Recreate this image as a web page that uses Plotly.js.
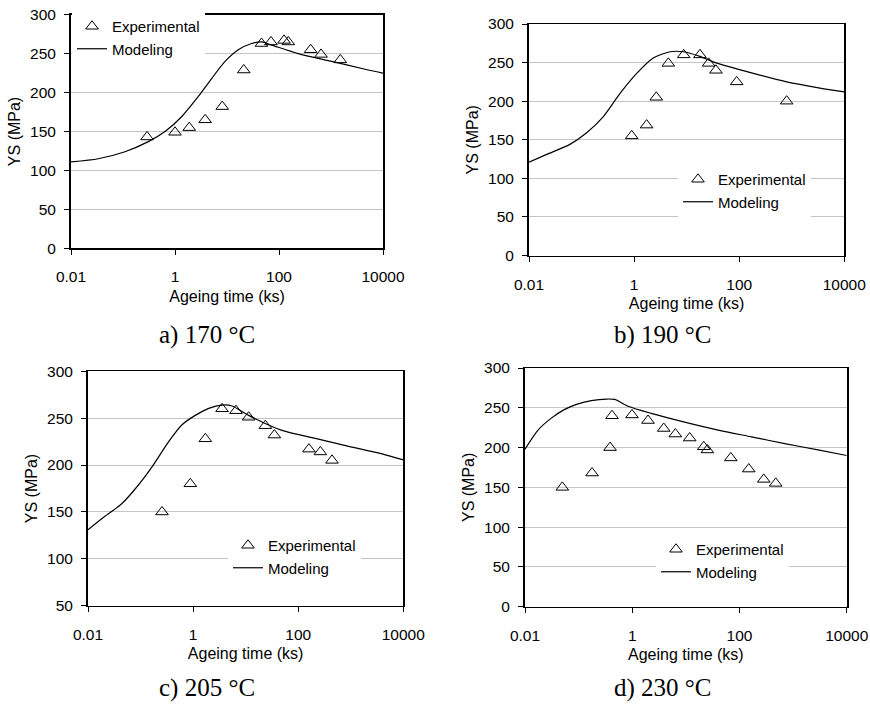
<!DOCTYPE html>
<html>
<head>
<meta charset="utf-8">
<script src="https://cdn.plot.ly/plotly-3.0.1.min.js"></script>
<style>
  html, body { margin: 0; padding: 0; background: #fff; }
  #chart { width: 870px; height: 706px; }
</style>
</head>
<body>
<div id="chart"></div>
<script>
// Yield strength vs. ageing time at four ageing temperatures

// a) 170 °C
const expTimeA = [0.29, 1.0, 1.88, 3.8, 8.1, 21, 46, 70, 125, 151, 406, 643, 1510];
const expYsA   = [143, 149, 155, 165, 182, 229, 263, 265, 267, 265, 255, 249, 242];
const modTimeA = [0.01, 0.0335, 0.109, 0.307, 0.643, 1.34, 2.81, 5.07, 9.16, 16.5, 29.8, 46.4, 72.3, 235, 1030, 4510, 10000];
const modYsA   = [111, 115, 124, 137, 150, 169, 195, 218, 240, 255, 263, 265, 261, 250, 240, 230, 225];

// b) 190 °C
const expTimeB = [0.90, 1.73, 2.64, 4.48, 8.8, 17.9, 26.2, 36.1, 89.5, 800];
const expYsB   = [155, 169, 205, 249, 260, 260, 249, 240, 225, 200];
const modTimeB = [0.01, 0.0217, 0.06, 0.125, 0.26, 0.54, 1.12, 2.32, 4.82, 8.64, 17.9, 32.2, 186, 800, 3444, 10000];
const modYsB   = [121, 131, 144, 159, 180, 210, 236, 256, 264, 264, 258, 251, 236, 225, 217, 212];

// c) 205 °C
const expTimeC = [0.256, 0.885, 1.71, 3.55, 6.55, 11.4, 23.7, 35.2, 160, 264, 440];
const expYsC   = [150, 180, 228, 260, 258, 251, 242, 232, 217, 214, 205];
const modTimeC = [0.01, 0.0185, 0.0443, 0.092, 0.165, 0.343, 0.615, 1.10, 1.98, 3.55, 5.5, 11.4, 49.2, 212, 914, 3937, 10000];
const modYsC   = [131, 143, 159, 179, 198, 225, 243, 253, 260.5, 264, 263, 253, 237, 228.5, 220, 212, 205.5];

// d) 230 °C
const expTimeD = [0.0497, 0.178, 0.386, 0.42, 0.99, 1.97, 3.87, 6.37, 11.8, 21.6, 25.2, 68.9, 149, 284, 475];
const expYsD   = [150, 168, 200, 240, 241, 234, 224, 217, 212, 201, 197, 187, 173, 160, 155];
const modTimeD = [0.01, 0.0175, 0.031, 0.055, 0.0975, 0.173, 0.329, 0.471, 0.835, 2.27, 9.5, 39.8, 167, 700, 2925, 10000];
const modYsD   = [198, 222, 237, 248, 255, 259, 261, 260.5, 252, 243, 232, 222, 213.5, 205, 197, 190];

const panelCaptions = ["a) 170 °C", "b) 190 °C", "c) 205 °C", "d) 230 °C"];
const xTickVals = [0.01, 1, 100, 10000];
const xTickText = ["0.01", "1", "100", "10000"];
const yRanges = [[0, 300], [0, 300], [50, 300], [0, 300]];

// ---- layout geometry (pixels on a 870 x 706 page) ----
const W = 870, H = 706;
const boxes = [
  { l: 71,  r: 383,   t: 14.7,  b: 248.3 },
  { l: 529, r: 844.3, t: 24,    b: 255.5 },
  { l: 88,  r: 403.3, t: 371.3, b: 605.7 },
  { l: 525, r: 846.7, t: 368,   b: 606.7 }
];
const legendPos = [ [72, 10], [678, 163], [228, 529], [656, 533] ];
const captionPos = [ [207, 335], [663, 335], [207, 688], [663, 688] ];

const FONT = "Liberation Sans, Arial, sans-serif";
const SERIF = "Liberation Serif, Times New Roman, serif";

const series = [
  [expTimeA, expYsA, modTimeA, modYsA],
  [expTimeB, expYsB, modTimeB, modYsB],
  [expTimeC, expYsC, modTimeC, modYsC],
  [expTimeD, expYsD, modTimeD, modYsD]
];

const traces = [];
const layout = {
  width: W, height: H,
  margin: { l: 0, r: 0, t: 0, b: 0 },
  paper_bgcolor: "#fff",
  plot_bgcolor: "#fff",
  font: { family: FONT, color: "#000", size: 15 },
  showlegend: true,
  annotations: []
};

series.forEach((s, i) => {
  const n = i + 1;
  const xa = n === 1 ? "x" : "x" + n;
  const ya = n === 1 ? "y" : "y" + n;
  const lg = n === 1 ? "legend" : "legend" + n;

  traces.push({
    type: "scatter", mode: "markers", name: "Experimental",
    x: s[0], y: s[1], xaxis: xa, yaxis: ya, legend: lg,
    marker: { symbol: "triangle-up-open", size: 11, color: "#000", line: { width: 1, color: "#000" } },
    cliponaxis: false
  });
  traces.push({
    type: "scatter", mode: "lines", name: "Modeling",
    x: s[2], y: s[3], xaxis: xa, yaxis: ya, legend: lg,
    line: { color: "#000", width: 1.2, shape: "spline", smoothing: 0.7 }
  });

  const b = boxes[i];
  const xKey = n === 1 ? "xaxis" : "xaxis" + n;
  const yKey = n === 1 ? "yaxis" : "yaxis" + n;

  layout[xKey] = {
    type: "log", range: [-2, 4],
    domain: [b.l / W, b.r / W], anchor: ya,
    tickmode: "array", tickvals: xTickVals, ticktext: xTickText,
    ticks: "outside", ticklen: 5, tickcolor: "#000", tickwidth: 1,
    ticklabelstandoff: 9,
    tickfont: { size: 15.5, family: FONT },
    showline: true, linecolor: "#000", linewidth: 1.5, mirror: true,
    showgrid: false, zeroline: false,
    title: { text: "Ageing time (ks)", font: { size: 16, family: FONT }, standoff: 6 }
  };
  layout[yKey] = {
    range: yRanges[i],
    domain: [1 - b.b / H, 1 - b.t / H], anchor: xa,
    tick0: 0, dtick: 50,
    ticks: "outside", ticklen: 5, tickcolor: "#000", tickwidth: 1,
    ticklabelstandoff: 5,
    tickfont: { size: 15.5, family: FONT },
    showline: true, linecolor: "#000", linewidth: 2, mirror: true,
    showgrid: true, gridcolor: "#c4c4c4", gridwidth: 1, zeroline: false,
    title: { text: "YS (MPa)", font: { size: 16, family: FONT }, standoff: 5 }
  };

  layout[lg] = {
    x: legendPos[i][0] / W, y: 1 - legendPos[i][1] / H,
    xref: "paper", yref: "paper",
    xanchor: "left", yanchor: "top",
    bgcolor: "#fff", borderwidth: 0,
    font: { size: 15, family: FONT, color: "#000" },
    traceorder: "normal"
  };

  layout.annotations.push({
    text: panelCaptions[i], xref: "paper", yref: "paper",
    x: captionPos[i][0] / W, y: 1 - captionPos[i][1] / H,
    xanchor: "center", yanchor: "middle", showarrow: false,
    font: { family: SERIF, size: 25, color: "#000" }
  });
});

Plotly.newPlot("chart", traces, layout, { staticPlot: true, displayModeBar: false });
</script>
</body>
</html>
